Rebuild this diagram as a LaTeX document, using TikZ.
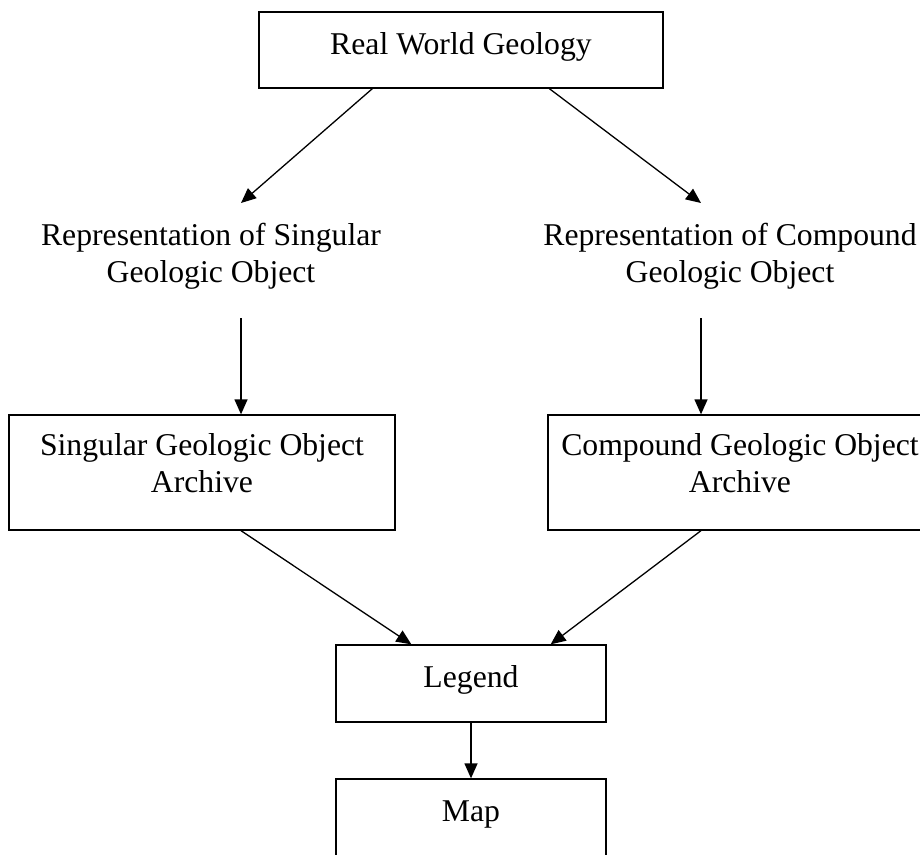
\documentclass[tikz,border=0pt]{standalone}
\usepackage{fontspec}
\setmainfont{Liberation Serif}
\usetikzlibrary{arrows.meta,calc}
\begin{document}
\begin{tikzpicture}[x=1pt,y=-1pt,
  every node/.style={font=\fontsize{31.7}{37}\selectfont},
  box/.style={draw,line width=1.3pt,inner sep=0pt,text height=20pt,text depth=12pt},
  txt/.style={align=center,inner sep=0pt},
  arr/.style={line width=1.3pt,-{Triangle[length=15pt,width=13pt]}}]
\useasboundingbox (0,0) rectangle (920,854);
\clip (0,0) rectangle (920,854);
% boxes
\node[box,minimum width=404pt,minimum height=76pt] (top) at (461,50) {Real World Geology};
\node[txt] (repS) at (211,256) {Representation of Singular\\Geologic Object};
\node[txt] (repC) at (730,256) {Representation of Compound\\Geologic Object};
\node[draw,line width=1.3pt,minimum width=386pt,minimum height=115pt] (archS) at (202,472.5) {};
\node[txt] (archSt) at (202,463.5) {Singular Geologic Object\\Archive};
\node[draw,line width=1.3pt,minimum width=384pt,minimum height=115pt] (archC) at (740,472.5) {};
\node[txt] (archCt) at (740,463.5) {Compound Geologic Object\\Archive};
\node[box,minimum width=270pt,minimum height=77pt] (legend) at (471,683.5) {Legend};
\node[box,minimum width=270pt,minimum height=77pt] (map) at (471,817.5) {Map};
% connector ends
\coordinate (repSin) at (241,203);
\coordinate (repSout) at (241,318);
\coordinate (repCin) at (701,203);
\coordinate (repCout) at (701,318);
% connectors
\draw[arr] ($(top.south west)+(114,0)$) -- (repSin);
\draw[arr] ($(top.south west)+(291,0)$) -- (repCin);
\draw[arr] (repSout) -- (repSout |- archS.north);
\draw[arr] (repCout) -- (repCout |- archC.north);
\draw[arr] (repSout |- archS.south) -- ($(legend.north west)+(76,0)$);
\draw[arr] (repCout |- archC.south) -- ($(legend.north east)+(-56,0)$);
\draw[arr] (legend.south) -- (map.north);
\end{tikzpicture}
\end{document}
